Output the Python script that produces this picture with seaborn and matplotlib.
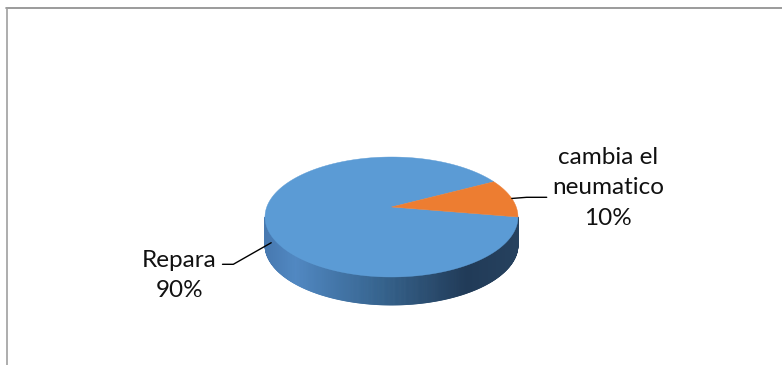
import numpy as np
import matplotlib
matplotlib.use("Agg")
import matplotlib.pyplot as plt
import seaborn as sns
from matplotlib.collections import PolyCollection
from matplotlib.lines import Line2D
from matplotlib.colors import LinearSegmentedColormap

# ---- data ----
categories = ["Repara", "cambia el\nneumatico"]
values = [90, 10]
label_texts = ["Repara\n90%", "cambia el\nneumatico\n10%"]

top_colors = ["#5B9BD5", "#ED7D31"]
side_cmap = LinearSegmentedColormap.from_list(
    "side", [(0.0, "#4779b0"), (0.12, "#5188c2"), (0.45, "#36648f"),
             (0.8, "#213b58"), (1.0, "#26415e")])

sns.set_theme(style="white")
plt.rcParams["font.family"] = ["Lato", "DejaVu Sans"]

W, H = 782, 365
fig = plt.figure(figsize=(W / 100, H / 100), dpi=100)
ax = fig.add_axes([0, 0, 1, 1])
ax.set_axis_off()

# pie geometry (unit circle squashed by the axes limits)
cx_px, cy_px = 391.5, 148.0        # ellipse centre, pixels from bottom-left
rx_px, ry_px = 126.5, 60.0
ax.set_xlim(-cx_px / rx_px, (W - cx_px) / rx_px)
ax.set_ylim(-cy_px / ry_px, (H - cy_px) / ry_px)
depth = 28.0 / ry_px
apex = (0.0, 10.0 / ry_px)         # perspective-shifted centre of the top face

# slice angles from the values (Repara first, counter-clockwise)
fracs = np.array(values, dtype=float) / sum(values)
start = 360 * fracs[-1]
bounds = start + np.concatenate([[0], np.cumsum(fracs) * 360])

# side wall of the cylinder (visible lower half), shaded left to right
ts = np.linspace(180, 360, 361)
polys, cols = [], []
for a0, a1 in zip(ts[:-1], ts[1:]):
    r0, r1 = np.radians(a0), np.radians(a1)
    p = [(np.cos(r0), np.sin(r0)), (np.cos(r1), np.sin(r1)),
         (np.cos(r1), np.sin(r1) - depth), (np.cos(r0), np.sin(r0) - depth)]
    polys.append(p)
    cols.append(side_cmap((np.cos((r0 + r1) / 2) + 1) / 2))
ax.add_collection(PolyCollection(polys, facecolors=cols, edgecolors=cols,
                                 linewidths=0.6, zorder=1))

# top face slices
for i, (a0, a1) in enumerate(zip(bounds[:-1], bounds[1:])):
    t = np.radians(np.linspace(a0, a1, 200))
    xs = np.concatenate([[apex[0]], np.cos(t)])
    ys = np.concatenate([[apex[1]], np.sin(t)])
    ax.fill(xs, ys, color=top_colors[i], lw=0.3, ec=top_colors[i], zorder=2)

# leader lines and labels
mids = np.radians((bounds[:-1] + bounds[1:]) / 2)
label_kw = dict(ha="center", va="center", fontsize=17.5, linespacing=1.58,
                color="#111111")

# Repara (left, attached on the side wall)
m = mids[0]
p0 = (np.cos(m) * 1.0, np.sin(m) - 0.12)
p1 = ((233.3 - cx_px) / rx_px, (H - 264.3 - cy_px) / ry_px)
p2 = ((222.5 - cx_px) / rx_px, p1[1])
ax.plot([p0[0], p1[0], p2[0]], [p0[1], p1[1], p2[1]], color="black", lw=1.0, zorder=3)
ax.text((179.5 - cx_px) / rx_px, (H - 275.5 - cy_px) / ry_px, label_texts[0], **label_kw)

# cambia el neumatico (right)
m = mids[1]
q0 = (np.cos(m), np.sin(m))
q1 = ((526.7 - cx_px) / rx_px, (H - 197.3 - cy_px) / ry_px)
q2 = ((546.7 - cx_px) / rx_px, q1[1])
ax.plot([q0[0], q1[0], q2[0]], [q0[1], q1[1], q2[1]], color="black", lw=1.0, zorder=3)
ax.text((608 - cx_px) / rx_px, (H - 188 - cy_px) / ry_px, label_texts[1], **label_kw)

# chart frame (top and left edges)
fig.add_artist(Line2D([6 / W, 1], [1 - 7.5 / H, 1 - 7.5 / H], transform=fig.transFigure,
                      color="#8a8a8a", lw=1.2))
fig.add_artist(Line2D([6.5 / W, 6.5 / W], [0, 1 - 7.5 / H], transform=fig.transFigure,
                      color="#a0a0a0", lw=1.2))

fig.savefig("out.png", dpi=100, facecolor="white")
